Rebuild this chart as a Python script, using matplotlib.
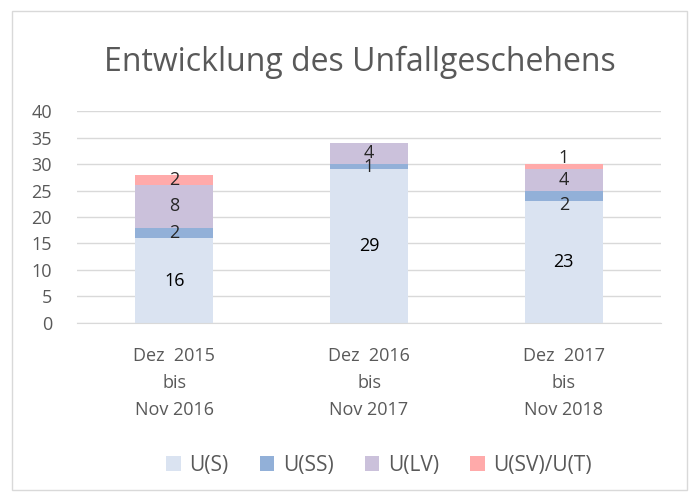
import numpy as np
import matplotlib.pyplot as plt
from matplotlib.patches import Rectangle

plt.rcParams['font.family'] = ['Open Sans', 'DejaVu Sans']

categories = ['Dez  2015\nbis\nNov 2016', 'Dez  2016\nbis\nNov 2017', 'Dez  2017\nbis\nNov 2018']
series_names = ['U(S)', 'U(SS)', 'U(LV)', 'U(SV)/U(T)']
u_s = [16, 29, 23]
u_ss = [2, 1, 2]
u_lv = [8, 4, 4]
u_sv_t = [2, 0, 1]
yticks = [0, 5, 10, 15, 20, 25, 30, 35, 40]

colors = ['#DAE3F1', '#92B0D8', '#CBC1DB', '#FFAAAA']
# small label shifts (Excel moves overlapping labels)
label_shift = {(1, 2): -1.7, (3, 2): 1.7}

fig = plt.figure(figsize=(6.93, 4.96), dpi=100)
ax = fig.add_axes([0.111, 0.349, 0.843, 0.427])

x = np.arange(len(categories))
bottom = np.zeros(len(categories))
for si, vals in enumerate([u_s, u_ss, u_lv, u_sv_t]):
    vals = np.array(vals, dtype=float)
    ax.bar(x, vals, 0.4, bottom=bottom, color=colors[si], label=series_names[si], zorder=2)
    for i, v in enumerate(vals):
        if v > 0:
            yc = bottom[i] + v / 2 + label_shift.get((si, i), 0)
            ax.text(x[i], yc, f'{int(v)}', ha='center', va='center',
                    fontsize=13, color='#262626' if v < 10 else 'black', zorder=3)
    bottom += vals

ax.set_xlim(-0.5, 2.5)
ax.set_ylim(0, 40)
ax.set_yticks(yticks)
ax.set_xticks(x)
ax.set_xticklabels(categories, fontsize=13, color='#595959', linespacing=1.65)
ax.tick_params(axis='y', labelsize=13, labelcolor='#595959', length=0, pad=18)
ax.tick_params(axis='x', length=0, pad=17)
ax.grid(axis='y', color='#D9D9D9', linewidth=1, zorder=0)
for s in ['top', 'right', 'left']:
    ax.spines[s].set_visible(False)
ax.spines['bottom'].set_color('#D9D9D9')

fig.text(0.52, 0.875, 'Entwicklung des Unfallgeschehens', ha='center', va='center',
         fontsize=23, color='#595959')

fig.legend(loc='center', bbox_to_anchor=(0.547, 0.062), ncol=4, frameon=False,
           fontsize=15, handlelength=0.7, handleheight=0.7, handletextpad=0.4,
           columnspacing=1.5, labelcolor='#595959')

fig.patches.append(Rectangle((12 / 693, 1 - 490 / 496), 675 / 693, 479 / 496,
                             transform=fig.transFigure, fill=False,
                             edgecolor='#D9D9D9', linewidth=1))

fig.savefig('out.png', dpi=100)
